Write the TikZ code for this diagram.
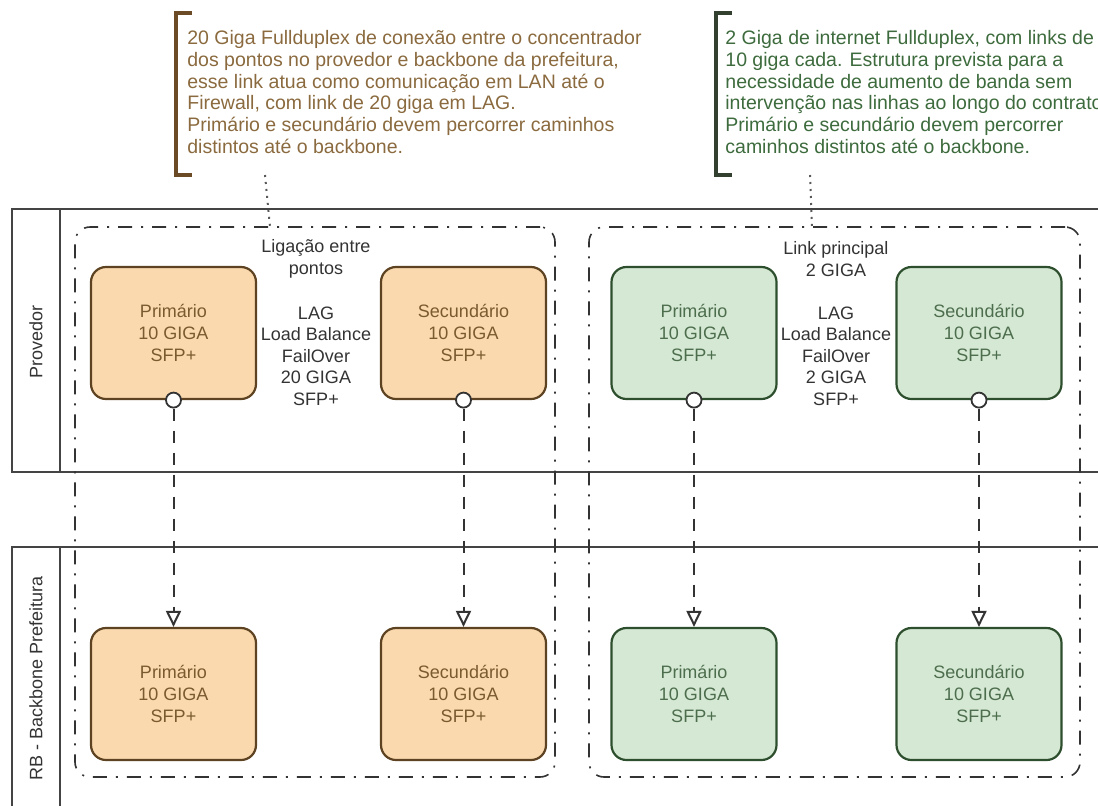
\documentclass[tikz,border=0pt]{standalone}
\usepackage{fontspec}
\setmainfont{Liberation Sans}
\usetikzlibrary{arrows.meta}

\definecolor{laranja}{HTML}{FAD9AE}
\definecolor{laranjaborda}{HTML}{5E4322}
\definecolor{laranjatexto}{HTML}{7A5A30}
\definecolor{verde}{HTML}{D5E8D4}
\definecolor{verdeborda}{HTML}{2E4F2E}
\definecolor{verdetexto}{HTML}{4D6E4D}
\definecolor{notamarrom}{HTML}{8A6A3E}
\definecolor{colchetemarrom}{HTML}{6B4A26}
\definecolor{notaverde}{HTML}{3D6B3D}
\definecolor{colcheteverde}{HTML}{33402F}
\definecolor{linha}{HTML}{444444}

\begin{document}
\begin{tikzpicture}[x=0.5pt,y=-0.5pt,font=\fontsize{9}{10.8}\selectfont]

\tikzset{raia/.style = {draw=linha,line width=1pt}}
\tikzset{grupo/.style = {draw=black!80,line width=0.8pt,rounded corners=7.5pt,
  dash pattern=on 7pt off 4.5pt on 1pt off 4.5pt,minimum width=240pt,minimum height=275pt}}
\tikzset{caixa/.style = {rectangle,rounded corners=7.5pt,line width=1.1pt,align=center,
  minimum width=82.5pt,minimum height=66pt,inner sep=0pt}}
\tikzset{caixaL/.style = {caixa,draw=laranjaborda,fill=laranja,text=laranjatexto}}
\tikzset{caixaV/.style = {caixa,draw=verdeborda,fill=verde,text=verdetexto}}
\tikzset{porta/.style = {circle,draw=black!80,fill=white,line width=0.9pt,minimum size=7.5pt,inner sep=0pt}}
\tikzset{link/.style = {-{Triangle[open,length=8pt,width=7.5pt]},line width=1pt,
  draw=black!80,dash pattern=on 6pt off 5pt}}
\tikzset{rotulo/.style = {align=center,text=black!80,inner sep=0pt}}
\tikzset{nota/.style = {draw=black!65,line width=1pt,dash pattern=on 1pt off 2.5pt}}
\tikzset{textonota/.style = {anchor=west,align=left,inner sep=0pt,font=\fontsize{9.75}{10.9}\selectfont}}

\useasboundingbox (0,0) rectangle (1098,805);
\clip (0,0) rectangle (1098,805);

% lanes
\draw[raia] (12,209) rectangle (1120,472);
\draw[raia] (60,209) -- (60,472);
\draw[raia] (12,547) rectangle (1120,840);
\draw[raia] (60,547) -- (60,840);
\node[rotulo,rotate=90] (provedor) at (36,342) {Provedor};
\node[rotulo,rotate=90] (rb) at (36,678) {RB - Backbone Prefeitura};

% groups
\node[grupo] (grupoA) at (315,502) {};
\node[grupo,minimum width=245.5pt] (grupoB) at (834.5,502) {};
\node[rotulo] (ligacao) at (316,259) {Ligação entre\\pontos};
\node[rotulo] (lagA) at (316,356) {LAG\\Load Balance\\FailOver\\20 GIGA\\SFP+};
\node[rotulo] (principal) at (836,259) {Link principal\\2 GIGA};
\node[rotulo] (lagB) at (836,356) {LAG\\Load Balance\\FailOver\\2 GIGA\\SFP+};

% boxes
\node[caixaL] (priA) at (173.5,333) {Primário\\10 GIGA\\SFP+};
\node[caixaL] (secA) at (463.5,333) {Secundário\\10 GIGA\\SFP+};
\node[caixaL] (priA2) at (173.5,694) {Primário\\10 GIGA\\SFP+};
\node[caixaL] (secA2) at (463.5,694) {Secundário\\10 GIGA\\SFP+};
\node[caixaV] (priB) at (694,333) {Primário\\10 GIGA\\SFP+};
\node[caixaV] (secB) at (979,333) {Secundário\\10 GIGA\\SFP+};
\node[caixaV] (priB2) at (694,694) {Primário\\10 GIGA\\SFP+};
\node[caixaV] (secB2) at (979,694) {Secundário\\10 GIGA\\SFP+};

% ports
\node[porta] (pPriA) at (priA.south) {};
\node[porta] (pSecA) at (secA.south) {};
\node[porta] (pPriB) at (priB.south) {};
\node[porta] (pSecB) at (secB.south) {};

%edges
\draw[link] (pPriA) -- (priA2);
\draw[link] (pSecA) -- (secA2);
\draw[link] (pPriB) -- (priB2);
\draw[link] (pSecB) -- (secB2);

% notes
\draw[colchetemarrom,line width=2pt] (192,13) -- (176,13) -- (176,175) -- (192,175);
\node[textonota,text=notamarrom] (notaA) at (187,92)
  {20 Giga Fullduplex de conexão entre o concentrador\\
   dos pontos no provedor e backbone da prefeitura,\\
   esse link atua como comunicação em LAN até o\\
   Firewall, com link de 20 giga em LAG.\\
   Primário e secundário devem percorrer caminhos\\
   distintos até o backbone.};
\draw[colcheteverde,line width=2pt] (732,13) -- (716,13) -- (716,175) -- (732,175);
\node[textonota,text=notaverde] (notaB) at (725,92)
  {2 Giga de internet Fullduplex, com links de\\
   10 giga cada. Estrutura prevista para a\\
   necessidade de aumento de banda sem\\
   intervenção nas linhas ao longo do contrato.\\
   Primário e secundário devem percorrer\\
   caminhos distintos até o backbone.};
\coordinate (pontaA) at (265,175);
\coordinate (alvoA) at (270,227);
\coordinate (pontaB) at (810,175);
\coordinate (alvoB) at (812,227);
\draw[nota] (pontaA) -- (alvoA);
\draw[nota] (pontaB) -- (alvoB);
\end{tikzpicture}
\end{document}
